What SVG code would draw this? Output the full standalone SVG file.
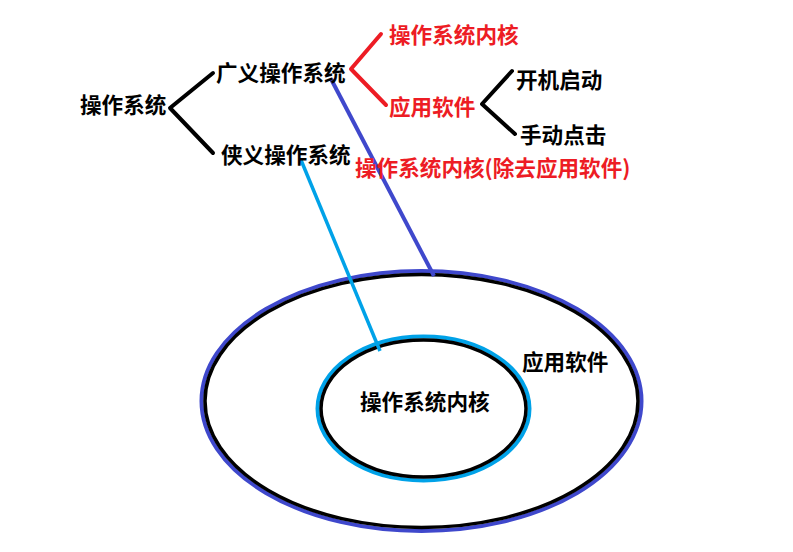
<svg xmlns="http://www.w3.org/2000/svg" width="793" height="552" viewBox="0 0 793 552">
<style>
text{font-family:"Noto Sans CJK SC","Noto Sans",sans-serif;font-size:21.6px;font-weight:bold;fill:#000}
.r{fill:#ed1c24}
.k{stroke:#000;stroke-width:4;fill:none;stroke-linecap:round;stroke-linejoin:round}
.rl{stroke:#ed1c24;stroke-width:4;fill:none;stroke-linecap:round;stroke-linejoin:round}
.bl{stroke:#3f48cc;stroke-width:4;fill:none}
.cy{stroke:#00a2e8;stroke-width:3.5;fill:none}
</style>
<rect width="793" height="552" fill="#fff"/>
<g id="outer-ellipse">
<ellipse cx="421.5" cy="401" rx="220" ry="130" fill="none" stroke="#3f48cc" stroke-width="4"/>
<ellipse cx="421.5" cy="401" rx="216.5" ry="126.5" fill="none" stroke="#000" stroke-width="3.5"/>
<text x="522" y="370">应用软件</text>
</g>
<g id="inner-ellipse">
<ellipse cx="423.5" cy="408.5" rx="106" ry="72" fill="none" stroke="#00a2e8" stroke-width="4"/>
<ellipse cx="423.5" cy="408.5" rx="102.5" ry="68.5" fill="none" stroke="#000" stroke-width="3.5"/>
<text x="360" y="410">操作系统内核</text>
</g>
<g id="connectors">
<polyline class="k" points="213,73 170,108 213,153"/>
<polyline class="rl" points="381,34 351,69 386,105"/>
<polyline class="k" points="512,71 482,104 515,134"/>
<line class="bl" x1="331" y1="79" x2="434" y2="276"/>
<line class="cy" x1="301" y1="160" x2="380" y2="351"/>
</g>
<g id="n-os"><text x="80" y="113">操作系统</text></g>
<g id="n-broad"><text x="216" y="81">广义操作系统</text></g>
<g id="n-narrow"><text x="221" y="163">侠义操作系统</text></g>
<g id="n-kernel"><text class="r" x="389" y="43">操作系统内核</text></g>
<g id="n-app"><text class="r" x="389" y="115">应用软件</text></g>
<g id="n-boot"><text x="516" y="88">开机启动</text></g>
<g id="n-click"><text x="520" y="143">手动点击</text></g>
<g id="n-kernel2"><text class="r" x="355" y="176">操作系统内核(除去应用软件)</text></g>
</svg>
